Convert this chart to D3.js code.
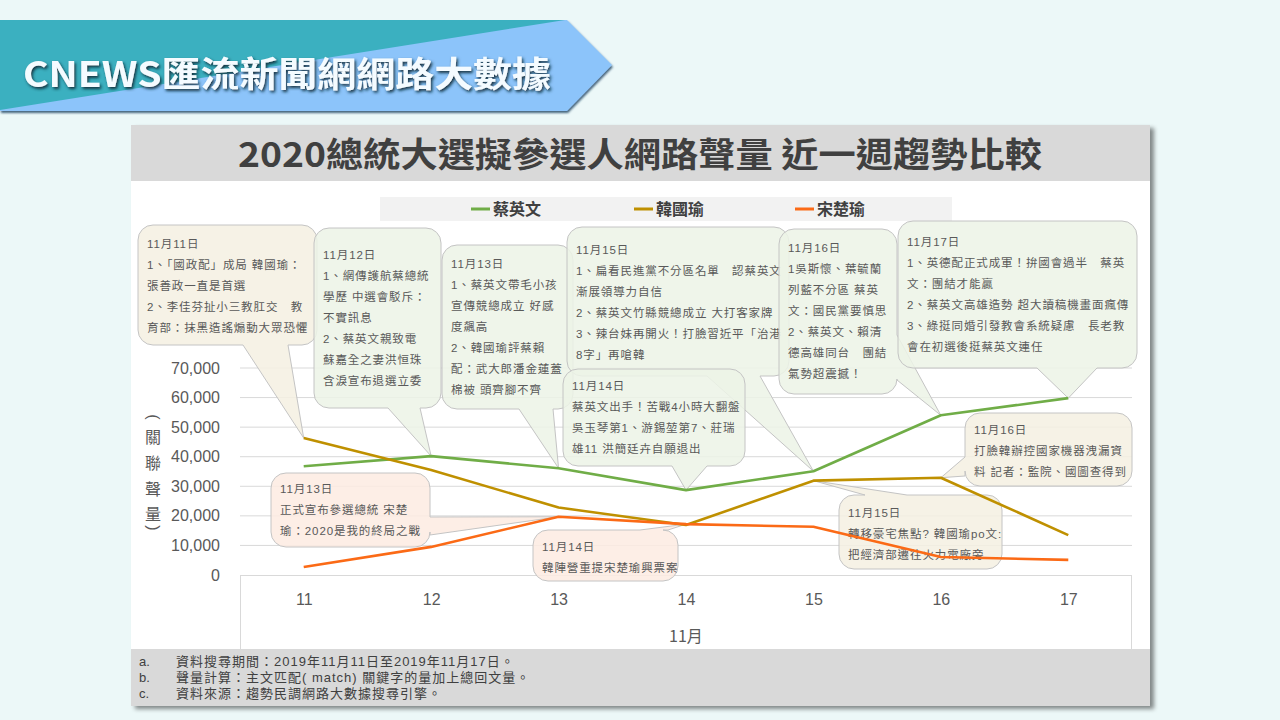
<!DOCTYPE html>
<html>
<head>
<meta charset="utf-8">
<script src="https://cdn.jsdelivr.net/npm/d3@7"></script>
<style>
  html, body { margin: 0; padding: 0; background: #ecf8f8; }
  svg { display: block; }
  text { font-family: "Noto Sans CJK TC", "Noto Sans", sans-serif; }
  .mix { font-family: "Liberation Sans", "Noto Sans CJK TC", sans-serif; }
</style>
</head>
<body>
<svg id="chart" width="1280" height="720"></svg>
<script>
// ---------------- data ----------------
const days = ["11", "12", "13", "14", "15", "16", "17"];
const tsaiValues  = [36800, 40200, 36100, 28700, 35100, 54000, 59800];
const hanValues   = [46300, 35500, 22800, 16900, 31900, 32900, 13500];
const soongValues = [2700, 9500, 19700, 17200, 16300, 6100, 5100];
const seriesNames = ["蔡英文", "韓國瑜", "宋楚瑜"];
const yTicks = [0, 10000, 20000, 30000, 40000, 50000, 60000, 70000];
const xAxisTitle = "11月";
const yAxisTitleChars = ["(", "關", "聯", "聲", "量", ")"];
const chartTitle = "2020總統大選擬參選人網路聲量 近一週趨勢比較";
const bannerText = "CNEWS匯流新聞網網路大數據";
const footnoteMarks = ["a.", "b.", "c."];
const footnotes = [
  "資料搜尋期間：2019年11月11日至2019年11月17日。",
  "聲量計算：主文匹配( match) 關鍵字的量加上總回文量。",
  "資料來源：趨勢民調網路大數據搜尋引擎。"
];

// annotation texts (callouts)
const noteDates = ["11月11日", "11月12日", "11月13日", "11月15日", "11月14日", "11月16日", "11月17日",
                   "11月13日", "11月14日", "11月15日", "11月16日"];
const noteSeries = ["韓國瑜", "蔡英文", "蔡英文", "蔡英文", "蔡英文", "蔡英文", "蔡英文",
                    "宋楚瑜", "宋楚瑜", "韓國瑜", "韓國瑜"];
const noteDayIndex = [0, 1, 2, 4, 3, 5, 6, 2, 3, 4, 5];
const noteLines = [
  ["1、「國政配」成局 韓國瑜：", "張善政一直是首選", "2、李佳芬扯小三教肛交　教", "育部：抹黑造謠煽動大眾恐懼"],
  ["1、網傳護航蔡總統", "學歷 中選會駁斥：", "不實訊息", "2、蔡英文親致電", "蘇嘉全之妻洪恒珠", "含淚宣布退選立委"],
  ["1、蔡英文帶毛小孩", "宣傳競總成立 好感", "度飆高", "2、韓國瑜評蔡賴", "配：武大郎潘金蓮蓋", "棉被 頭齊腳不齊"],
  ["1、扁看民進黨不分區名單　認蔡英文", "漸展領導力自信", "2、蔡英文竹縣競總成立 大打客家牌", "3、辣台妹再開火！打臉習近平「治港", "8字」再嗆韓"],
  ["蔡英文出手！苦戰4小時大翻盤", "吳玉琴第1、游錫堃第7、莊瑞", "雄11 洪簡廷卉自願退出"],
  ["1吳斯懷、葉毓蘭", "列藍不分區 蔡英", "文：國民黨要慎思", "2、蔡英文、賴清", "德高雄同台　團結", "氣勢超震撼！"],
  ["1、英德配正式成軍！拚國會過半　蔡英", "文：團結才能贏", "2、蔡英文高雄造勢 超大讀稿機畫面瘋傳", "3、綠挺同婚引發教會系統疑慮　長老教", "會在初選後挺蔡英文連任"],
  ["正式宣布參選總統 宋楚", "瑜：2020是我的終局之戰"],
  ["韓陣營重提宋楚瑜興票案"],
  ["轉移豪宅焦點? 韓國瑜po文:", "把經濟部遷往火力電廠旁"],
  ["打臉韓辦控國家機器洩漏資", "料 記者：監院、國圖查得到"]
];

// ---------------- layout (not data) ----------------
const seriesColors = {"蔡英文": "#70ad47", "韓國瑜": "#bf9000", "宋楚瑜": "#fb6a16"};
const calloutFill = {"蔡英文": "#ecf3e6", "韓國瑜": "#f5f0e2", "宋楚瑜": "#fdebe2"};
// box [x0,y0,x1,y1], tail side, tail base a..b, first text line center y
const noteLayout = [
  {box: [138, 225, 317, 345], side: "bottom", a: 243, b: 288, ty: 244},
  {box: [314, 228, 441, 408], side: "bottom", a: 388, b: 420, ty: 255},
  {box: [442, 245, 573, 409], side: "bottom", a: 519, b: 553, ty: 264},
  {box: [567, 227, 789, 376], side: "bottom", a: 707, b: 760, ty: 250},
  {box: [563, 369, 745, 466], side: "bottom", a: 672, b: 707, ty: 386},
  {box: [779, 229, 897, 394], side: "right",  a: 335, b: 380, ty: 248},
  {box: [898, 221, 1137, 368], side: "bottom", a: 1037, b: 1097, ty: 242},
  {box: [271, 473, 430, 547], side: "right",  a: 517, b: 535, ty: 489},
  {box: [533, 530, 678, 581], side: "top",    a: 640, b: 668, ty: 547},
  {box: [839, 495, 1002, 569], side: "top",   a: 865, b: 907, ty: 513},
  {box: [965, 413, 1132, 486], side: "left",  a: 457, b: 476, ty: 430}
];

const svg = d3.select("#chart");
const defs = svg.append("defs");

// shadows
const f1 = defs.append("filter").attr("id", "boxShadow").attr("x", "-5%").attr("y", "-5%").attr("width", "110%").attr("height", "115%");
f1.append("feDropShadow").attr("dx", 4).attr("dy", 3).attr("stdDeviation", 2).attr("flood-color", "#000").attr("flood-opacity", 0.45);
const f2 = defs.append("filter").attr("id", "bannerShadow").attr("x", "-5%").attr("y", "-10%").attr("width", "110%").attr("height", "130%");
f2.append("feDropShadow").attr("dx", 1).attr("dy", 2).attr("stdDeviation", 1.2).attr("flood-color", "#1f3f5f").attr("flood-opacity", 0.8);
const f3 = defs.append("filter").attr("id", "textShadow").attr("x", "-5%").attr("y", "-20%").attr("width", "110%").attr("height", "150%");
f3.append("feDropShadow").attr("dx", 1.5).attr("dy", 2).attr("stdDeviation", 1.8).attr("flood-color", "#0d2b3a").attr("flood-opacity", 0.95);

// ---------------- banner ----------------
const banner = svg.append("g");
banner.append("path")
  .attr("d", "M0,20 L567,20 L612,65 L567,111 L0,111 Z")
  .attr("fill", "#8cc4fa").attr("filter", "url(#bannerShadow)");
banner.append("path")
  .attr("d", "M0,20 L565,20 L0,110 Z")
  .attr("fill", "#3bb0c0");
banner.append("text")
  .attr("x", 23).attr("y", 87)
  .attr("textLength", 528).attr("lengthAdjust", "spacingAndGlyphs")
  .attr("font-size", 35).attr("font-weight", "bold")
  .attr("fill", "#f4fbff").attr("filter", "url(#textShadow)")
  .text(bannerText);

// ---------------- chart card ----------------
svg.append("rect").attr("x", 131).attr("y", 125).attr("width", 1019).attr("height", 581)
  .attr("fill", "#ffffff").attr("filter", "url(#boxShadow)");
svg.append("rect").attr("x", 131).attr("y", 125).attr("width", 1019).attr("height", 56).attr("fill", "#d9d9d9");
svg.append("text")
  .attr("x", 640).attr("y", 167).attr("text-anchor", "middle")
  .attr("textLength", 804).attr("lengthAdjust", "spacingAndGlyphs")
  .attr("font-size", 34).attr("font-weight", "bold").attr("fill", "#404040")
  .text(chartTitle);

// legend
svg.append("rect").attr("x", 380).attr("y", 197).attr("width", 572).attr("height", 24).attr("fill", "#f2f2f2");
const legendX = [471, 634, 795];
const legend = svg.append("g").selectAll("g").data(seriesNames).join("g")
  .attr("transform", (d, i) => `translate(${legendX[i]},209)`);
legend.append("line").attr("x1", 0).attr("x2", 19).attr("y1", 0).attr("y2", 0)
  .attr("stroke", d => seriesColors[d]).attr("stroke-width", 3);
legend.append("text").attr("x", 22).attr("y", 6).attr("font-size", 16).attr("font-weight", "bold")
  .attr("fill", "#404040").text(d => d);

// scales
const x = d3.scalePoint().domain(days).range([240, 1132]).padding(0.5);
const y = d3.scaleLinear().domain([0, 70000]).range([575, 368]);

// gridlines
svg.append("g").selectAll("line").data(yTicks.filter(t => t > 0)).join("line")
  .attr("x1", 240).attr("x2", 1132).attr("y1", d => y(d)).attr("y2", d => y(d))
  .attr("stroke", "#d9d9d9").attr("stroke-width", 1);
// category box
svg.append("rect").attr("x", 240.5).attr("y", 575.5).attr("width", 891).attr("height", 80)
  .attr("fill", "none").attr("stroke", "#d9d9d9");

// y axis
const yAxis = svg.append("g").attr("transform", "translate(240,0)")
  .call(d3.axisLeft(y).tickValues(yTicks).tickSize(0).tickPadding(20).tickFormat(d3.format(",")));
yAxis.select(".domain").remove();
yAxis.selectAll("text").attr("font-size", 16).attr("fill", "#595959")
  .style("font-family", "'Liberation Sans', Arial, sans-serif");

// x axis
const xAxis = svg.append("g").attr("transform", "translate(0,575)")
  .call(d3.axisBottom(x).tickSize(0).tickPadding(19));
xAxis.select(".domain").remove();
xAxis.selectAll("text").attr("font-size", 16).attr("fill", "#595959")
  .style("font-family", "'Liberation Sans', Arial, sans-serif");

svg.append("text").attr("x", 686).attr("y", 642).attr("text-anchor", "middle")
  .attr("font-size", 16).attr("fill", "#595959").text(xAxisTitle);

// y axis title (vertical; parentheses rotated)
const yTitleY = [417, 436, 462, 488, 513, 528];
svg.append("g").selectAll("text").data(yAxisTitleChars).join("text")
  .attr("transform", (d, i) => (d === "(" || d === ")")
      ? `translate(153,${yTitleY[i]}) rotate(90)` : `translate(153,${yTitleY[i]})`)
  .attr("text-anchor", "middle")
  .attr("dominant-baseline", "central").attr("font-size", 16).attr("fill", "#595959")
  .style("font-family", d => (d === "(" || d === ")") ? "'Liberation Sans', sans-serif" : null)
  .text(d => d);

// series
const seriesValues = {"蔡英文": tsaiValues, "韓國瑜": hanValues, "宋楚瑜": soongValues};

// callouts
function calloutPath(L, tip) {
  const [x0, y0, x1, y1] = L.box, r = 15;
  const p = d3.path();
  p.moveTo(x0 + r, y0);
  if (L.side === "top") { p.lineTo(L.a, y0); p.lineTo(tip[0], tip[1]); p.lineTo(L.b, y0); }
  p.lineTo(x1 - r, y0); p.arcTo(x1, y0, x1, y0 + r, r);
  if (L.side === "right") { p.lineTo(x1, L.a); p.lineTo(tip[0], tip[1]); p.lineTo(x1, L.b); }
  p.lineTo(x1, y1 - r); p.arcTo(x1, y1, x1 - r, y1, r);
  if (L.side === "bottom") { p.lineTo(L.b, y1); p.lineTo(tip[0], tip[1]); p.lineTo(L.a, y1); }
  p.lineTo(x0 + r, y1); p.arcTo(x0, y1, x0, y1 - r, r);
  if (L.side === "left") { p.lineTo(x0, L.b); p.lineTo(tip[0], tip[1]); p.lineTo(x0, L.a); }
  p.lineTo(x0, y0 + r); p.arcTo(x0, y0, x0 + r, y0, r);
  p.closePath();
  return p.toString();
}

const notes = noteDates.map((d, i) => ({
  date: d, series: noteSeries[i], idx: noteDayIndex[i], lines: noteLines[i], L: noteLayout[i]
}));
const noteG = svg.append("g").selectAll("g").data(notes).join("g");
noteG.append("path")
  .attr("d", n => calloutPath(n.L, [x(days[n.idx]), y(seriesValues[n.series][n.idx])]))
  .attr("fill", n => calloutFill[n.series]).attr("fill-opacity", 0.86)
  .attr("stroke", "#c4c4c4").attr("stroke-width", 1);
noteG.each(function(n) {
  const g = d3.select(this);
  const all = [n.date].concat(n.lines);
  g.selectAll("text").data(all).join("text")
    .attr("class", "mix")
    .attr("x", n.L.box[0] + 9)
    .attr("y", (t, j) => n.L.ty + j * 21)
    .attr("dominant-baseline", "central")
    .attr("font-size", 11.5).attr("letter-spacing", 0.9)
    .attr("fill", "#595959")
    .text(t => t);
});

// lines on top
const line = d3.line().x((d, i) => x(days[i])).y(d => y(d));
svg.append("g").selectAll("path").data(seriesNames).join("path")
  .attr("d", s => line(seriesValues[s]))
  .attr("fill", "none").attr("stroke", s => seriesColors[s]).attr("stroke-width", 2.6)
  .attr("stroke-linejoin", "round");

// footer
svg.append("rect").attr("x", 131).attr("y", 649).attr("width", 1019).attr("height", 57).attr("fill", "#d9d9d9");
const foot = svg.append("g").selectAll("g").data(footnotes).join("g")
  .attr("transform", (d, i) => `translate(0,${661 + i * 16})`);
foot.append("text").attr("class", "mix").attr("x", 139).attr("dominant-baseline", "central")
  .attr("font-size", 13).attr("fill", "#404040").text((d, i) => footnoteMarks[i]);
foot.append("text").attr("class", "mix").attr("x", 176).attr("dominant-baseline", "central")
  .attr("font-size", 13).attr("letter-spacing", 1).attr("fill", "#404040").text(d => d);
</script>
</body>
</html>
